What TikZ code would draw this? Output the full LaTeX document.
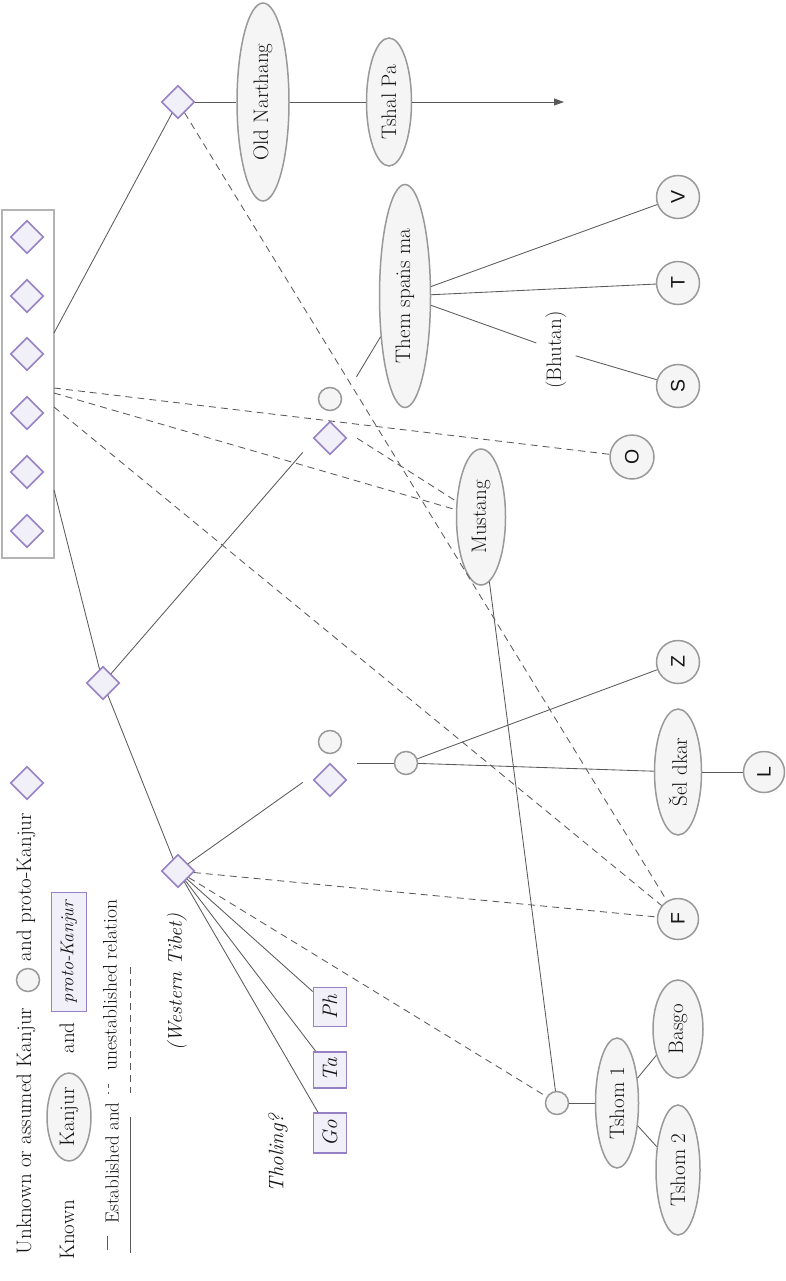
\documentclass[tikz,border=0pt]{standalone}
\usepackage{fontspec}
\newfontfamily\sansf{Liberation Sans}
\usetikzlibrary{shapes.geometric,arrows.meta}
\definecolor{ellgray}{HTML}{999999}
\definecolor{ellfill}{HTML}{F4F5F4}
\definecolor{purp}{HTML}{9681C4}
\definecolor{purpfill}{HTML}{F1EFF8}
\definecolor{linec}{HTML}{5A5A5A}
\definecolor{boxgray}{HTML}{B4B4B4}
\definecolor{txt}{HTML}{151515}
\begin{document}
\begin{tikzpicture}[x=1pt,y=-1pt,
  font=\fontsize{21}{24}\selectfont, text=txt,
  ell/.style={ellipse,draw=ellgray,fill=ellfill,line width=1.5pt,inner sep=0pt,rotate=90},
  circ/.style={circle,draw=ellgray,fill=ellfill,line width=1.5pt,inner sep=0pt,minimum size=43pt,rotate=90,font=\sansf\fontsize{19.5}{22}\selectfont},
  scirc/.style={circle,draw=ellgray,fill=ellfill,line width=1.5pt,inner sep=0pt,minimum size=23pt},
  dia/.style={diamond,draw=purp,fill=purpfill,line width=1.6pt,inner sep=0pt,minimum size=33pt},
  pbox/.style={rectangle,draw=purp,fill=purpfill,line width=1.6pt,inner sep=0pt,rotate=90,font=\itshape\fontsize{21}{24}\selectfont},
  lbl/.style={rotate=90,inner sep=0pt},
  grp/.style={rectangle,inner sep=0pt,minimum width=54pt,minimum height=88pt},
  rel/.style={draw=linec,line width=0.85pt},
  unrel/.style={rel,dash pattern=on 7pt off 5pt}
]
\useasboundingbox (0,0) rectangle (786,1281);

% ---------- legend ----------
\node[lbl] (lg1) at (26,1131) {Unknown or assumed Kanjur};
\node[scirc] (lgc) at (28,980) {};
\node[lbl] (lg2) at (26,887) {and proto-Kanjur};
\node[dia] (lgd) at (27,783) {};
\node[lbl] (lg3) at (67,1230) {Known};
\node[ell,minimum width=88pt,minimum height=44pt] (lge) at (69,1117) {Kanjur};
\node[lbl] (lg4) at (67,1038) {and};
\node[pbox,minimum width=119pt,minimum height=35pt,font=\itshape\fontsize{18.5}{22}\selectfont] (lgp) at (69,952) {proto-Kanjur};
\node[lbl,font=\fontsize{19}{22}\selectfont] (lg5) at (112,1163) {Established and};
\node[lbl,font=\fontsize{19.5}{22}\selectfont] (lg6) at (110,985) {unestablished relation};
\coordinate (ls1) at (107,1236); \coordinate (ls2) at (107,1250);
\coordinate (ls3) at (130,1117); \coordinate (ls4) at (130,1253);
\coordinate (lu1) at (108,1084); \coordinate (lu2) at (108,1094);
\coordinate (lu3) at (130,967);  \coordinate (lu4) at (130,1093);
\draw[rel] (ls1) -- (ls2);
\draw[rel] (ls3) -- (ls4);
\draw[unrel,dash pattern=on 4pt off 4pt] (lu1) -- (lu2);
\draw[unrel] (lu3) -- (lu4);

% ---------- box of proto-Kanjurs ----------
\node[draw=boxgray,line width=1.2pt,inner sep=0pt,minimum width=52pt,minimum height=348pt] (box) at (28,384) {};
\node[dia] (b1) at (27,237) {};
\node[dia] (b2) at (27,296) {};
\node[dia] (b3) at (27,354) {};
\node[dia] (b4) at (27,413) {};
\node[dia] (b5) at (27,472) {};
\node[dia] (b6) at (27,531) {};
\coordinate (bx1) at (54,333);
\coordinate (bx2) at (54,490);
\coordinate (bx3) at (54,388);
\coordinate (bx4) at (54,393);
\coordinate (bx5) at (54,407);

% ---------- nodes ----------
\node[dia] (top) at (178,102) {};
\node[ell,minimum width=198pt,minimum height=52pt] (on) at (263,102) {Old Narthang};
\node[ell,minimum width=128pt,minimum height=45pt] (tp) at (389,102) {Tshal Pa};
\coordinate (arr) at (564,102);

\node[dia] (d2) at (103,683) {};
\node[dia] (wt) at (178,871) {};
\node[lbl,font=\itshape\fontsize{20}{24}\selectfont] (wtl) at (177,982) {(Western Tibet)};

\node[grp] (cA) at (330,421) {};
\node[scirc] (cAc) at (330,399) {};
\node[dia] (cAd) at (330,438) {};
\node[grp] (cB) at (330,763) {};
\node[scirc] (cBc) at (330,742) {};
\node[dia] (cBd) at (330,780) {};

\node[ell,minimum width=223pt,minimum height=51pt] (them) at (405,296) {Them spaṅs ma};
\node[circ] (V) at (678,197) {V};
\node[circ] (T) at (678,283) {T};
\node[circ] (S) at (678,386) {S};
\node[lbl,inner sep=9pt] (bhu) at (556,350) {(Bhutan)};
\node[ell,minimum width=136pt,minimum height=49pt] (mus) at (481,517) {Mustang};
\node[circ,minimum size=44pt] (O) at (632,457) {O};

\node[scirc] (c3) at (406,763) {};
\node[circ] (Z) at (678,662) {Z};
\node[ell,minimum width=126pt,minimum height=47pt] (sel) at (678,772) {Šel dkar};
\node[circ,minimum size=41pt] (L) at (764,772) {L};
\node[circ,minimum size=41pt] (F) at (678,919) {F};

\node[scirc] (c4) at (557,1103) {};
\node[ell,minimum width=130pt,minimum height=43pt] (t1) at (617,1103) {Tshom 1};
\node[ell,minimum width=98pt,minimum height=50pt] (bas) at (678,1029) {Basgo};
\node[ell,minimum width=130pt,minimum height=44pt] (t2) at (678,1170) {Tshom 2};

\node[pbox,minimum width=39pt,minimum height=33pt] (ph) at (330,1007) {Ph};
\node[pbox,minimum width=36pt,minimum height=33pt] (ta) at (330,1070) {Ta};
\node[pbox,minimum width=40pt,minimum height=33pt] (go) at (330,1133) {Go};
\node[lbl,font=\itshape\fontsize{21}{24}\selectfont] (tho) at (278,1153) {Tholing?};

% ---------- established relations ----------
\draw[rel] (bx1) -- (top);
\draw[rel] (top) -- (on);
\draw[rel] (on) -- (tp);
\draw[rel,-{Triangle[length=10pt,width=7pt]}] (tp) -- (arr);
\draw[rel] (bx2) -- (d2);
\draw[rel] (d2) -- (cA);
\draw[rel] (d2) -- (wt);
\draw[rel] (cA) -- (them);
\draw[rel] (them) -- (V);
\draw[rel] (them) -- (T);
\draw[rel] (them) -- (bhu) -- (S);
\draw[rel] (wt) -- (cB);
\draw[rel] (cB) -- (c3);
\draw[rel] (c3) -- (Z);
\draw[rel] (c3) -- (sel);
\draw[rel] (sel) -- (L);
\draw[rel] (wt) -- (ph);
\draw[rel] (wt) -- (ta);
\draw[rel] (wt) -- (go);
\draw[rel] (mus) -- (c4);
\draw[rel] (c4) -- (t1);
\draw[rel] (t1) -- (bas);
\draw[rel] (t1) -- (t2);

% ---------- unestablished relations ----------
\draw[unrel] (bx3) -- (O);
\draw[unrel] (bx4) -- (mus);
\draw[unrel] (bx5) -- (F);
\draw[unrel] (cA) -- (mus);
\draw[unrel] (top) -- (F);
\draw[unrel] (wt) -- (F);
\draw[unrel] (wt) -- (c4);
\end{tikzpicture}
\end{document}
